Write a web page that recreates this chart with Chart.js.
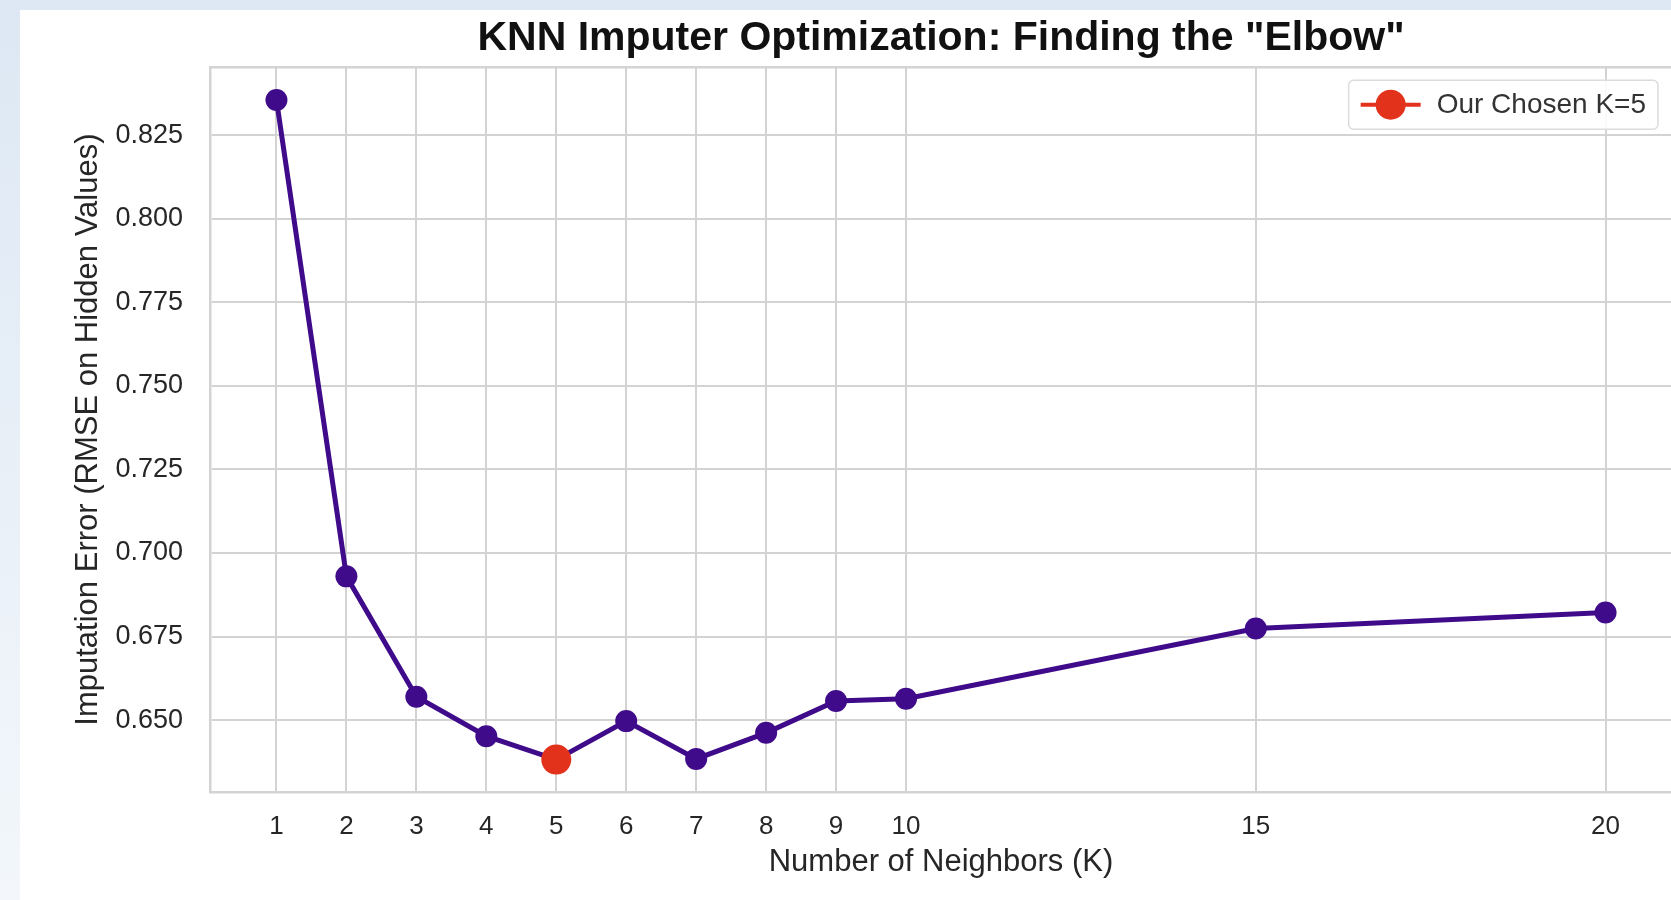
<!DOCTYPE html>
<html>
<head>
<meta charset="utf-8">
<script src="https://cdn.jsdelivr.net/npm/chart.js@4.4.1/dist/chart.umd.min.js"></script>
<style>
  html, body { margin: 0; padding: 0; }
  body {
    width: 1671px; height: 900px; overflow: hidden; position: relative;
    background: linear-gradient(180deg, #dde8f4 0%, #e9f0f8 55%, #f3f7fb 100%);
  }
  #card { position: absolute; left: 20px; top: 10px; right: 0; bottom: 0; background: #fff; }
  #myChart { position: absolute; left: 0; top: 0; }
</style>
</head>
<body>
<div id="card"></div>
<!-- the plot runs off the right edge of the picture, as in the source image -->
<canvas id="myChart" width="1687" height="900"></canvas>
<script>
// data
var kValues = [1, 2, 3, 4, 5, 6, 7, 8, 9, 10, 15, 20];
var rmseValues = [0.8355, 0.6930, 0.6570, 0.6452, 0.6382, 0.6497, 0.6384, 0.6462, 0.6557, 0.6564, 0.6774, 0.6822];
var chosenK = [5];
var chosenRmse = [0.6382];
var xTicks = [1, 2, 3, 4, 5, 6, 7, 8, 9, 10, 15, 20];
var yTicks = [0.650, 0.675, 0.700, 0.725, 0.750, 0.775, 0.800, 0.825];

var lineColor = '#3f0b8a';
var chosenColor = '#e3321c';
var textColor = '#262626';
var gridColor = '#d3d3d3';
var fontName = '"Liberation Sans", Arial, Helvetica, sans-serif';

// legend inside the plot (upper right) and the top spine
var framePlugin = {
    id: 'frame',
    afterDraw: function (chart) {
        var ctx = chart.ctx;
        var a = chart.chartArea;
        ctx.save();
        ctx.strokeStyle = gridColor;
        ctx.lineWidth = 2.5;
        ctx.beginPath();
        ctx.moveTo(a.left, a.top);
        ctx.lineTo(a.right, a.top);
        ctx.stroke();

        var ds = chart.data.datasets[1];
        ctx.font = '28px ' + fontName;
        var label = ds.label;
        var tw = ctx.measureText(label).width;
        var boxW = tw + 100, boxH = 49;
        var bx = a.right - 14 - boxW, by = a.top + 13;
        ctx.fillStyle = 'rgba(255,255,255,0.85)';
        ctx.strokeStyle = '#dcdcdc';
        ctx.lineWidth = 1.5;
        ctx.beginPath();
        ctx.roundRect(bx, by, boxW, boxH, 5);
        ctx.fill();
        ctx.stroke();
        var cy = by + boxH / 2;
        ctx.strokeStyle = chosenColor;
        ctx.lineWidth = 4;
        ctx.beginPath();
        ctx.moveTo(bx + 12, cy);
        ctx.lineTo(bx + 72, cy);
        ctx.stroke();
        ctx.fillStyle = chosenColor;
        ctx.beginPath();
        ctx.arc(bx + 42, cy, 15, 0, Math.PI * 2);
        ctx.fill();
        ctx.fillStyle = '#333333';
        ctx.textBaseline = 'middle';
        ctx.textAlign = 'left';
        ctx.fillText(label, bx + 88, cy + 1);
        ctx.restore();
    }
};

var ctx = document.getElementById('myChart');

new Chart(ctx, {
    type: 'line',
    data: {
        datasets: [{
            label: 'RMSE',
            data: kValues.map(function (k, i) { return { x: k, y: rmseValues[i] }; }),
            borderColor: lineColor,
            backgroundColor: lineColor,
            borderWidth: 5,
            pointRadius: 11,
            pointBorderWidth: 0,
            pointHoverRadius: 11,
            tension: 0,
            order: 2
        }, {
            label: 'Our Chosen K=5',
            data: chosenK.map(function (k, i) { return { x: k, y: chosenRmse[i] }; }),
            borderColor: chosenColor,
            backgroundColor: chosenColor,
            showLine: false,
            pointRadius: 15,
            pointBorderWidth: 0,
            pointHoverRadius: 15,
            order: 1
        }]
    },
    options: {
        responsive: false,
        animation: false,
        events: [],
        layout: { padding: 0 },
        scales: {
            x: {
                type: 'linear',
                min: 0.05,
                max: 20.95,
                afterBuildTicks: function (s) { s.ticks = xTicks.map(function (v) { return { value: v }; }); },
                afterFit: function (s) { s.height = 108; },
                grid: { color: gridColor, lineWidth: 2, drawTicks: false },
                border: { color: gridColor, width: 2.5 },
                ticks: {
                    color: textColor,
                    padding: 19,
                    font: { family: fontName, size: 26 },
                    maxRotation: 0,
                    autoSkip: false
                },
                title: {
                    display: true,
                    text: 'Number of Neighbors (K)',
                    color: textColor,
                    font: { family: fontName, size: 31 },
                    padding: { top: 0, bottom: 19 }
                }
            },
            y: {
                type: 'linear',
                min: 0.6285,
                max: 0.8453,
                afterBuildTicks: function (s) { s.ticks = yTicks.map(function (v) { return { value: v }; }); },
                afterFit: function (s) { s.width = 210; },
                grid: { color: gridColor, lineWidth: 2, drawTicks: false },
                border: { color: gridColor, width: 2.5 },
                ticks: {
                    color: textColor,
                    padding: 27,
                    font: { family: fontName, size: 27 },
                    callback: function (v) { return v.toFixed(3); }
                },
                title: {
                    display: true,
                    text: 'Imputation Error (RMSE on Hidden Values)',
                    color: textColor,
                    font: { family: fontName, size: 31 },
                    padding: { top: 70, bottom: 0 }
                }
            }
        },
        plugins: {
            legend: { display: false },
            tooltip: { enabled: false },
            title: {
                display: true,
                fullSize: false,
                text: 'KNN Imputer Optimization: Finding the "Elbow"',
                color: '#111111',
                font: { family: fontName, size: 41, weight: 'bold' },
                padding: { top: 14, bottom: 4 }
            }
        }
    },
    plugins: [framePlugin]
});
</script>
</body>
</html>
